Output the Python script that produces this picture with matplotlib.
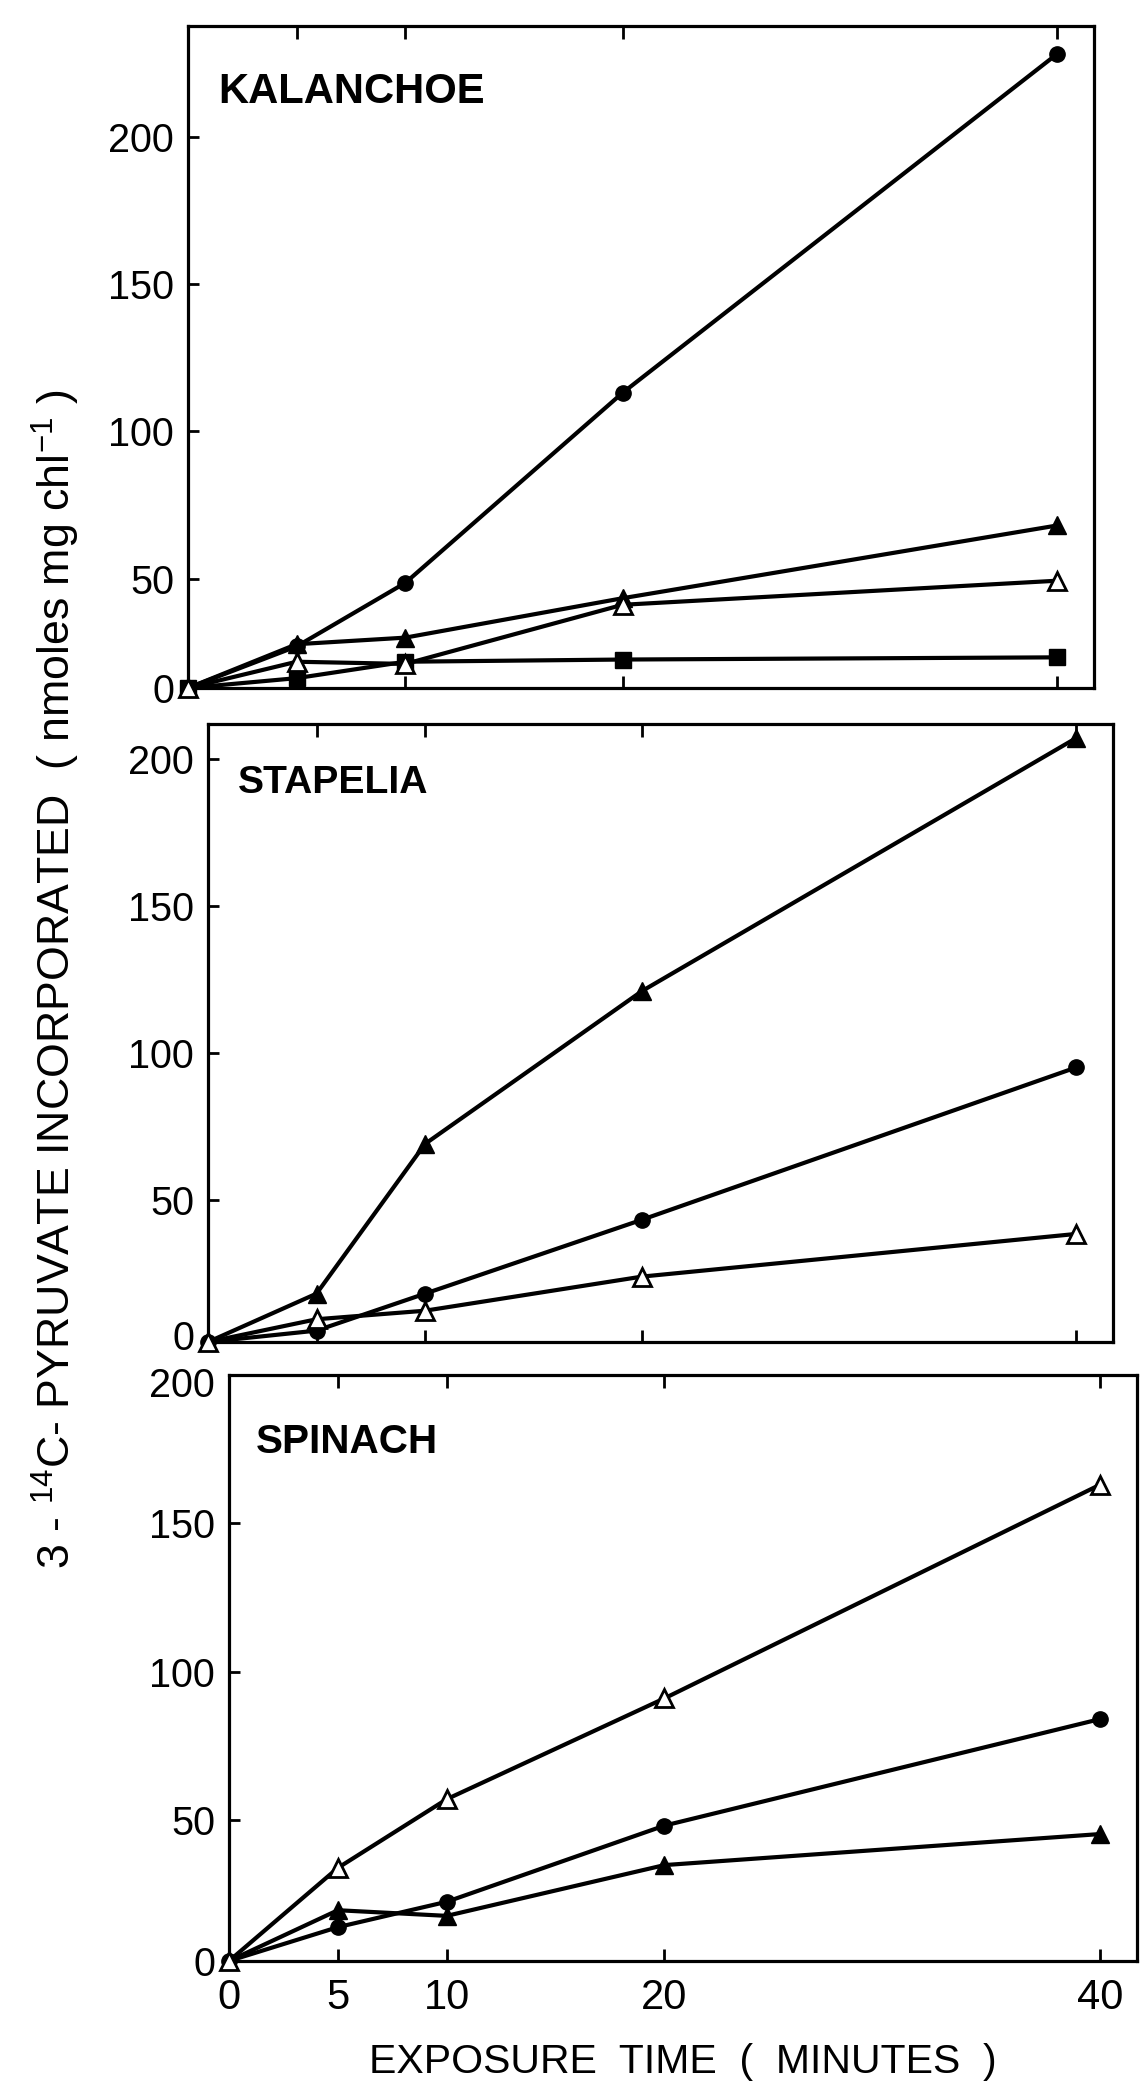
import numpy as np
import matplotlib
matplotlib.use("Agg")
import matplotlib.pyplot as plt
from matplotlib import font_manager
from matplotlib.transforms import ScaledTranslation

# exposure times (minutes), shared by all three panels
times = [0, 5, 10, 20, 40]

# Kalanchoe
kal_circle = [0, 19, 48, 113, 228]
kal_tri_filled = [0, 20, 23, 41, 68]
kal_tri_open = [0, 12, 11, 38, 49]
kal_square = [0, 4.5, 12, 13, 14]

# Stapelia
sta_tri_filled = [0, 17, 69, 121, 207]
sta_circle = [0, 4, 17, 43, 95]
sta_tri_open = [0, 8, 11, 23, 38]

# Spinach
spi_tri_open = [0, 33, 57, 91, 163]
spi_circle = [0, 12, 21, 48, 84]
spi_tri_filled = [0, 18, 16, 34, 45]

x_ticks = [0, 5, 10, 20, 40]
x_tick_labels = ["0", "5", "10", "20", "40"]
y_ticks = [0, 50, 100, 150, 200]
y_tick_labels = ["0", "50", "100", "150", "200"]

available = {f.name for f in font_manager.fontManager.ttflist}
REG = "Liberation Sans" if "Liberation Sans" in available else "DejaVu Sans"

plt.rcParams["font.family"] = [REG, "DejaVu Sans"]
plt.rcParams["mathtext.fontset"] = "custom"
plt.rcParams["mathtext.rm"] = REG
plt.rcParams["mathtext.it"] = REG
plt.rcParams["mathtext.bf"] = REG

W, H = 1148, 2085

MARKERS = {
    "circle": dict(marker="o", ms=11, mfc="black", mec="black"),
    "tri": dict(marker="^", ms=13, mfc="black", mec="black"),
    "open": dict(marker="^", ms=13, mfc="white", mec="black", mew=2.0),
    "square": dict(marker="s", ms=11.5, mfc="black", mec="black"),
}


def squeeze_low(k):
    # the 0-50 interval is drawn shorter than the rest of the axis
    def fwd(y):
        y = np.asarray(y, dtype=float)
        return np.where(y < 50, y * k, 50 * k + (y - 50))

    def inv(t):
        t = np.asarray(t, dtype=float)
        return np.where(t < 50 * k, t / k, t - 50 * k + 50)

    return fwd, inv


def px_rect(left, top, right, bottom):
    return [left / W, 1 - bottom / H, (right - left) / W, (bottom - top) / H]


def fit_text(t, renderer, length, vertical=False):
    # rescale the font so the text spans `length` pixels
    bb = t.get_window_extent(renderer)
    cur = bb.height if vertical else bb.width
    t.set_fontsize(t.get_fontsize() * length / cur)


def nudge(label, dy_px):
    label.set_transform(label.get_transform()
                        + ScaledTranslation(0, dy_px / 100, fig.dpi_scale_trans))


panels = [
    dict(name="KALANCHOE", rect=px_rect(188, 26, 1094, 688), ytop=237.5, k=0.743,
         series=[(kal_circle, "circle"), (kal_tri_filled, "tri"),
                 (kal_square, "square"), (kal_tri_open, "open")],
         label_pos=(0.033, 0.900), label_len=266),
    dict(name="STAPELIA", rect=px_rect(208, 724, 1113, 1342), ytop=211.8, k=0.967,
         series=[(sta_tri_filled, "tri"), (sta_circle, "circle"), (sta_tri_open, "open")],
         label_pos=(0.033, 0.905), label_len=190),
    dict(name="SPINACH", rect=px_rect(229, 1375, 1137, 1961), ytop=200, k=0.951,
         series=[(spi_circle, "circle"), (spi_tri_filled, "tri"), (spi_tri_open, "open")],
         label_pos=(0.030, 0.886), label_len=182),
]

fig = plt.figure(figsize=(W / 100, H / 100), dpi=100)
renderer = fig.canvas.get_renderer()
axes = []

for i, p in enumerate(panels):
    ax = fig.add_axes(p["rect"])
    axes.append(ax)
    ax.set_yscale("function", functions=squeeze_low(p["k"]))
    for vals, kind in p["series"]:
        z = 4 if kind == "open" else 3
        ax.plot(times, vals, color="black", lw=3.0, zorder=z,
                clip_on=False, **MARKERS[kind])
    ax.set_xlim(0, 41.7)
    ax.set_ylim(0, p["ytop"])
    ax.set_xticks(x_ticks)
    ax.set_yticks(y_ticks)
    ax.set_yticklabels(y_tick_labels)
    ax.minorticks_off()
    last = i == len(panels) - 1
    ax.tick_params(axis="x", direction="in", top=True, bottom=True, length=9,
                   width=2.0, labelbottom=last, labelsize=30, pad=12)
    ax.tick_params(axis="y", direction="in", left=True, right=False, length=8,
                   width=2.0, labelsize=28.5, pad=10)
    if last:
        ax.set_xticklabels(x_tick_labels)
        xl = ax.set_xlabel("EXPOSURE  TIME  (  MINUTES  )", fontsize=30, labelpad=18)
        fit_text(xl, renderer, 628)
    for s in ax.spines.values():
        s.set_linewidth(2.3)
    lab = ax.text(p["label_pos"][0], p["label_pos"][1], p["name"], transform=ax.transAxes,
                  fontsize=30, fontweight="bold", ha="left", va="center")
    fit_text(lab, renderer, p["label_len"])

# the "0" of the middle panel sits a little above its axis and the "200"
# of the lower panel a little below its top edge
nudge(axes[1].yaxis.get_major_ticks()[0].label1, 7)
nudge(axes[2].yaxis.get_major_ticks()[-1].label1, -7)

ylab = fig.text(56 / W, 1 - 979 / H,
                r"3 - $^{14}$C- PYRUVATE INCORPORATED  ( nmoles mg chl$^{-1}$ )",
                rotation=90, ha="center", va="center", fontsize=32)
fit_text(ylab, renderer, 1180, vertical=True)

fig.savefig("out.png", dpi=100, facecolor="white")
